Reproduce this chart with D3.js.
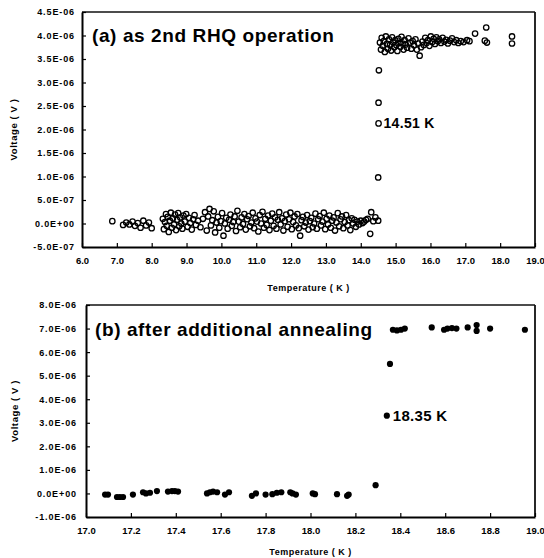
<!DOCTYPE html>
<html>
<head>
<meta charset="utf-8">
<script src="https://cdn.jsdelivr.net/npm/d3@7"></script>
<style>
  html, body { margin: 0; padding: 0; background: #fff; }
  svg { display: block; }
  text { font-family: "Liberation Sans", Arial, Helvetica, sans-serif; fill: #000; }
</style>
</head>
<body>
<svg id="chart" width="544" height="558"></svg>
<script>
// ---- Panel (a): as 2nd RHQ operation (open circles) ----
// superconducting branch, voltage in units of 1e-7 V
const aLowT = [6.87, 7.18, 7.27, 7.36, 7.45, 7.52, 7.60, 7.68, 7.76, 7.84, 7.92, 8.00,
  8.32, 8.35, 8.38, 8.41, 8.43, 8.46, 8.49, 8.52, 8.55, 8.58, 8.61, 8.64, 8.67, 8.70, 8.73, 8.76, 8.79,
  8.82, 8.85, 8.88, 8.91, 8.95, 8.99, 9.03, 9.07, 9.11, 9.15, 9.19, 9.23, 9.27, 9.33, 9.40, 9.47, 9.53,
  9.58, 9.62, 9.66, 9.70, 9.74, 9.78, 9.82, 9.86, 9.90, 9.94, 9.98, 10.02, 10.06, 10.10, 10.14, 10.18,
  10.22, 10.26, 10.30, 10.34, 10.38, 10.42, 10.46, 10.50, 10.54, 10.58, 10.62, 10.66, 10.70, 10.74,
  10.78, 10.82, 10.86, 10.90, 10.94, 10.98, 11.02, 11.06, 11.10, 11.14, 11.18, 11.22, 11.26, 11.30,
  11.34, 11.38, 11.42, 11.46, 11.50, 11.54, 11.58, 11.62, 11.66, 11.70, 11.74, 11.78, 11.82, 11.86,
  11.90, 11.94, 11.98, 12.02, 12.06, 12.10, 12.14, 12.18, 12.22, 12.26, 12.30, 12.34, 12.38, 12.42,
  12.46, 12.50, 12.54, 12.58, 12.62, 12.66, 12.70, 12.74, 12.78, 12.82, 12.86, 12.90, 12.94, 12.98,
  13.02, 13.06, 13.10, 13.14, 13.18, 13.22, 13.26, 13.30, 13.34, 13.38, 13.42, 13.46, 13.50, 13.54,
  13.58, 13.62, 13.66, 13.70, 13.74, 13.78, 13.82, 13.86, 13.90, 13.95, 14.00, 14.05, 14.10, 14.15,
  14.20, 14.27, 14.30, 14.36, 14.42, 14.50];
const aLowV = [0.5, -0.3, 0.2, -0.2, 0.4, -0.5, 0.1, -0.9, 0.6, -0.4, 0.2, -1.0,
  1.0, -1.2, 0.3, 2.0, -0.5, 1.4, -1.8, 0.6, 2.3, -0.9, 1.1, -0.2, 1.9, -1.4, 0.8, 2.2, -0.6,
  1.3, 0.0, -1.1, 1.7, 0.4, 2.0, -0.7, 1.2, 0.1, -1.3, 0.9, 1.8, -0.3, 0.6, -0.8, 1.0, 2.4,
  -1.5, 1.5, 3.1, -0.4, 0.7, 2.6, -1.9, 0.2, 1.4, -0.9, 0.5, 2.2, -2.6, 0.0, 1.2, -1.1,
  0.8, 1.9, -0.5, 0.3, 1.5, -1.6, 2.7, 0.4, -0.8, 1.3, -0.1, 2.0, -1.3, 0.9,
  1.6, -0.6, 0.2, 2.3, -1.0, 1.1, 0.4, -1.7, 1.8, 0.0, 2.5, -0.9, 1.0, -0.3,
  1.7, -1.4, 0.6, 2.1, -0.5, 1.3, -1.1, 0.8, 2.4, -0.2, 1.1, -1.5, 0.5, 1.9,
  -0.7, 0.9, 2.3, -1.2, 0.3, 1.5, -0.4, 2.0, -1.0, -2.6, 0.7, 1.4, -0.6, 0.2,
  1.8, -1.3, 0.5, 1.2, -0.8, 0.0, 2.1, -1.1, 0.9, 1.6, -0.4, 0.4, 2.3, -1.2,
  1.0, -0.2, 1.7, -0.9, 0.6, 1.3, -1.5, 0.2, 2.2, -0.6, 0.9, 1.5, -1.0, 0.3,
  1.8, -0.4, 0.7, -1.4, 1.1, 0.0, 0.8, -0.7, 0.4, -0.2, 0.6, 0.1, 0.4, 0.8,
  1.0, -2.2, 2.4, 0.5, 1.3, 0.6];

// transition and normal-state branch, voltage in units of 1e-6 V
const aHighT = [14.50, 14.51, 14.51, 14.52,
  14.55, 14.58, 14.60, 14.63, 14.66, 14.69, 14.72, 14.75, 14.78, 14.81, 14.84, 14.87, 14.90, 14.93,
  14.96, 14.99, 15.02, 15.05, 15.08, 15.11, 15.14, 15.17, 15.20, 15.23, 15.26, 15.29, 15.33, 15.37,
  15.41, 15.45, 15.49, 15.53, 15.57, 15.61, 15.65, 15.69, 15.73, 15.77, 15.81, 15.85, 15.89, 15.93,
  15.97, 16.01, 16.05, 16.09, 16.13, 16.17, 16.21, 16.25, 16.30, 16.35, 16.40, 16.45, 16.50, 16.56,
  16.62, 16.68, 16.74, 16.80, 16.87, 16.95, 17.05, 17.12, 17.28, 17.56, 17.60, 17.62, 18.34, 18.34];
const aHighV = [0.98, 2.13, 2.57, 3.26,
  3.85, 3.70, 3.95, 3.78, 3.88, 3.65, 3.98, 3.82, 3.72, 3.92, 3.80, 3.68, 3.96, 3.85,
  3.75, 3.90, 3.80, 3.67, 3.93, 3.84, 3.76, 3.97, 3.83, 3.70, 3.90, 3.81, 3.74, 3.94,
  3.85, 3.72, 3.88, 3.79, 3.92, 3.70, 3.83, 3.57, 3.75, 3.87, 3.80, 3.95, 3.84, 3.90,
  3.78, 3.98, 3.86, 3.93, 3.82, 3.96, 3.88, 3.92, 3.84, 3.95, 3.87, 3.91, 3.83, 3.89,
  3.94, 3.86, 3.90, 3.84, 3.88, 3.86, 3.90, 3.88, 4.04, 3.89, 4.17, 3.85, 3.98, 3.83];

const aXTicks = [6, 7, 8, 9, 10, 11, 12, 13, 14, 15, 16, 17, 18, 19];
const aXLabels = ["6.0", "7.0", "8.0", "9.0", "10.0", "11.0", "12.0", "13.0", "14.0", "15.0", "16.0", "17.0", "18.0", "19.0"];
const aYTicks = [-5e-7, 0, 5e-7, 1e-6, 1.5e-6, 2e-6, 2.5e-6, 3e-6, 3.5e-6, 4e-6, 4.5e-6];
const aYLabels = ["-5.0E-07", "0.0E+00", "5.0E-07", "1.0E-06", "1.5E-06", "2.0E-06", "2.5E-06", "3.0E-06", "3.5E-06", "4.0E-06", "4.5E-06"];

// ---- Panel (b): after additional annealing (filled circles), voltage in 1e-6 V ----
const bT = [17.085, 17.098, 17.138, 17.151, 17.165, 17.209, 17.254, 17.267, 17.285, 17.316,
  17.365, 17.383, 17.396, 17.410, 17.539, 17.552, 17.566, 17.584, 17.619, 17.637,
  17.739, 17.757, 17.800, 17.830, 17.850, 17.870, 17.910, 17.920, 17.935, 18.010,
  18.020, 18.118, 18.163, 18.170, 18.290, 18.340, 18.354,
  18.367, 18.385, 18.403, 18.420, 18.540, 18.595, 18.610, 18.630, 18.650, 18.700,
  18.740, 18.740, 18.800, 18.955];
const bV = [-0.05, -0.05, -0.15, -0.15, -0.15, -0.05, 0.05, 0.0, 0.03, 0.10,
  0.08, 0.10, 0.10, 0.08, 0.0, 0.05, 0.08, 0.05, -0.05, 0.05,
  -0.10, 0.0, -0.05, -0.03, 0.03, 0.05, 0.05, 0.0, -0.05, 0.0,
  -0.03, -0.03, -0.10, -0.05, 0.35, 3.30, 5.50,
  6.95, 6.92, 6.95, 7.00, 7.05, 6.95, 7.00, 7.02, 7.00, 7.05,
  7.15, 6.90, 7.00, 6.95];

const bXTicks = [17.0, 17.2, 17.4, 17.6, 17.8, 18.0, 18.2, 18.4, 18.6, 18.8, 19.0];
const bXLabels = ["17.0", "17.2", "17.4", "17.6", "17.8", "18.0", "18.2", "18.4", "18.6", "18.8", "19.0"];
const bYTicks = [-1e-6, 0, 1e-6, 2e-6, 3e-6, 4e-6, 5e-6, 6e-6, 7e-6, 8e-6];
const bYLabels = ["-1.0E-06", "0.0E+00", "1.0E-06", "2.0E-06", "3.0E-06", "4.0E-06", "5.0E-06", "6.0E-06", "7.0E-06", "8.0E-06"];

const svg = d3.select("#chart");

function panel(cfg) {
  const x = d3.scaleLinear().domain(cfg.xDomain).range([cfg.left, cfg.right]);
  const y = d3.scaleLinear().domain(cfg.yDomain).range([cfg.bottom, cfg.top]);
  const g = svg.append("g");

  // frame: top and right edges
  g.append("line").attr("x1", cfg.left).attr("x2", cfg.right).attr("y1", cfg.top).attr("y2", cfg.top)
    .attr("stroke", "#111").attr("stroke-width", 1.6);
  g.append("line").attr("x1", cfg.right).attr("x2", cfg.right).attr("y1", cfg.top).attr("y2", cfg.bottom)
    .attr("stroke", "#111").attr("stroke-width", 1.8);

  const yLab = new Map(cfg.yTicks.map((v, i) => [v, cfg.yLabels[i]]));
  const xLab = new Map(cfg.xTicks.map((v, i) => [v, cfg.xLabels[i]]));

  const yAxis = g.append("g").attr("transform", `translate(${cfg.left},0)`)
    .call(d3.axisLeft(y).tickValues(cfg.yTicks).tickFormat(d => yLab.get(d))
      .tickSizeInner(-4).tickSizeOuter(0).tickPadding(cfg.yPad));
  yAxis.selectAll("text").attr("font-size", 9).attr("font-weight", "bold")
    .attr("letter-spacing", 0.9).attr("fill", "#000");

  const xAxis = g.append("g").attr("transform", `translate(0,${cfg.bottom})`)
    .call(d3.axisBottom(x).tickValues(cfg.xTicks).tickFormat(d => xLab.get(d))
      .tickSizeInner(-4).tickSizeOuter(0).tickPadding(10));
  xAxis.selectAll("text").attr("font-size", 9.5).attr("font-weight", "bold").attr("fill", "#000");

  [yAxis, xAxis].forEach(a => {
    a.select(".domain").attr("stroke", "#000").attr("stroke-width", 2);
    a.selectAll(".tick line").attr("stroke", "#000").attr("stroke-width", 1.2);
    a.selectAll("text").style("font-family", "'Liberation Sans', Arial, sans-serif");
  });

  // axis titles
  g.append("text").attr("x", (cfg.left + cfg.right) / 2).attr("y", cfg.bottom + cfg.xTitleDy)
    .attr("text-anchor", "middle").attr("font-size", 9).attr("font-weight", "bold")
    .attr("letter-spacing", 0.5).text("Temperature ( K )");
  g.append("text")
    .attr("transform", `translate(${cfg.yTitleX},${(cfg.top + cfg.bottom) / 2}) rotate(-90)`)
    .attr("text-anchor", "middle").attr("font-size", 9.5).attr("font-weight", "bold")
    .attr("letter-spacing", 0.6).text("Voltage ( V )");

  // panel title
  g.append("text").attr("x", cfg.left + cfg.titleDx).attr("y", cfg.titleY)
    .attr("font-size", 19).attr("font-weight", "bold").attr("letter-spacing", 0.6)
    .text(cfg.title);

  return { g, x, y };
}

// panel (a)
const A = panel({
  left: 82, right: 535, top: 12, bottom: 247,
  xDomain: [6, 19], yDomain: [-5e-7, 4.5e-6],
  xTicks: aXTicks, xLabels: aXLabels, yTicks: aYTicks, yLabels: aYLabels,
  yPad: 7, xTitleDy: 44, yTitleX: 17, titleDx: 10, titleY: 42,
  title: "(a) as 2nd RHQ operation"
});
const aPts = aLowT.map((t, i) => [t, aLowV[i] * 1e-7])
  .concat(aHighT.map((t, i) => [t, aHighV[i] * 1e-6]));
A.g.append("g").selectAll("circle").data(aPts).join("circle")
  .attr("cx", d => A.x(d[0])).attr("cy", d => A.y(d[1])).attr("r", 2.7)
  .attr("fill", "none").attr("stroke", "#000").attr("stroke-width", 1.3);
A.g.append("text").attr("x", A.x(14.51) + 5).attr("y", A.y(2.13e-6) + 5)
  .attr("font-size", 14).attr("font-weight", "bold").attr("letter-spacing", 0.3).text("14.51 K");

// panel (b)
const B = panel({
  left: 86, right: 535, top: 305, bottom: 517,
  xDomain: [17, 19], yDomain: [-1e-6, 8e-6],
  xTicks: bXTicks, xLabels: bXLabels, yTicks: bYTicks, yLabels: bYLabels,
  yPad: 9, xTitleDy: 38, yTitleX: 18, titleDx: 9, titleY: 336,
  title: "(b) after additional annealing"
});
const bPts = bT.map((t, i) => [t, bV[i] * 1e-6]);
B.g.append("g").selectAll("circle").data(bPts).join("circle")
  .attr("cx", d => B.x(d[0])).attr("cy", d => B.y(d[1])).attr("r", 3.1)
  .attr("fill", "#000");
B.g.append("text").attr("x", B.x(18.34) + 6).attr("y", B.y(3.3e-6) + 5)
  .attr("font-size", 15).attr("font-weight", "bold").attr("letter-spacing", 0.3).text("18.35 K");
</script>
</body>
</html>
